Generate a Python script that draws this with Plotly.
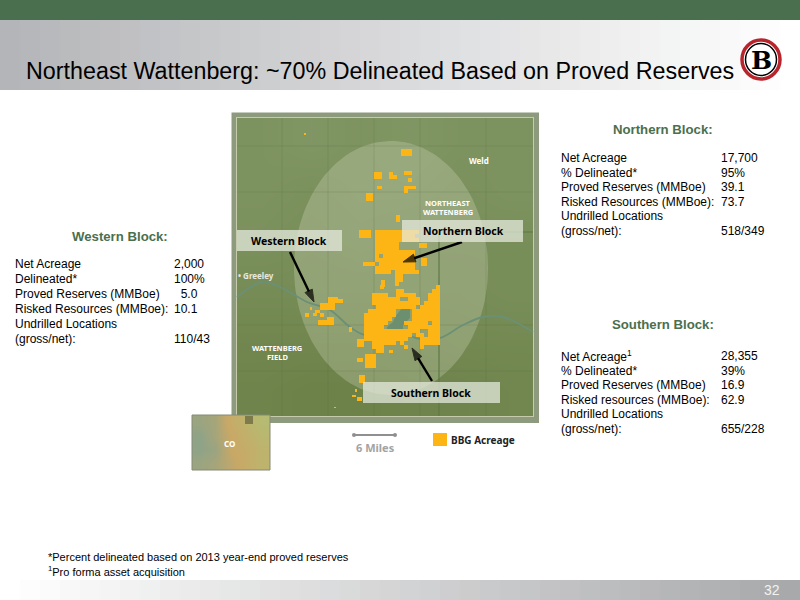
import numpy as np
import plotly.graph_objects as go

TITLE = 'Northeast Wattenberg: ~70% Delineated Based on Proved Reserves'
FOOTNOTES = ['*Percent delineated based on 2013 year-end proved reserves',
             '<sup>1</sup>Pro forma asset acquisition']
PAGE = '32'

west_labels = ['Net Acreage', 'Delineated*', 'Proved Reserves (MMBoe)',
               'Risked Resources (MMBoe):', 'Undrilled Locations', '(gross/net):']
west_values = ['2,000', '100%', '  5.0', '10.1', '', '110/43']
north_labels = ['Net Acreage', '% Delineated*', 'Proved Reserves (MMBoe)',
                'Risked Resources (MMBoe):', 'Undrilled Locations', '(gross/net):']
north_values = ['17,700', '95%', '39.1', '73.7', '', '518/349']
south_labels = ['Net Acreage<sup>1</sup>', '% Delineated*', 'Proved Reserves (MMBoe)',
                'Risked resources (MMBoe):', 'Undrilled Locations', '(gross/net):']
south_values = ['28,355', '39%', '16.9', '62.9', '', '655/228']

# acreage (slide pixels): small tracts as x0, y0, x1, y1
tracts = [
    (304, 133, 306, 135),
    (401, 149, 412, 156), (374, 172, 382, 179), (389, 172, 393, 179), (393, 175, 397, 179),
    (404, 171, 412, 175), (408, 178, 412, 182), (404, 186, 416, 189), (404, 189, 408, 193),
    (377, 186, 382, 189), (366, 193, 373, 201), (396, 215, 400, 222),
    (419, 243, 427, 248), (421, 258, 427, 266),
    (381, 280, 385, 287),
    (357, 339, 364, 347), (365, 354, 376, 368), (357, 358, 363, 362), (349, 327, 352, 332),
    (359, 375, 365, 383), (355, 389, 357, 392), (352, 395, 356, 397), (357, 397, 362, 401),
    (334, 407, 336, 408), (389, 350, 393, 353),
    (320, 303, 335, 310), (328, 297, 338, 303), (338, 299, 343, 303),
    (310, 307, 312, 310), (305, 313, 309, 317), (315, 310, 320, 313), (313, 313, 317, 316),
    (320, 313, 324, 317), (318, 320, 327, 325), (327, 317, 334, 325),
]
# the two big clusters, one character per 4px section
north_sections = [
    '.###.###########....',
    '.###.##########.....',
    '.....###########....',
    '.....######.........',
    '.....######.........',
    '.....##########.....',
    '.....#.########.....',
    '.....##########.....',
    '..###.#########.....',
    '.....##########.....',
    '.....####.######....',
    '..........##........',
    '..........##........',
    '..........#.........',
]
south_sections = [
    '.....#.............#',
    '.........##.......##',
    '...####..#####...###',
    '...#######..###..###',
    '...############.####',
    '....##########.#####',
    '..#######....#######',
    '.########....#######',
    '.#######.....#######',
    '.######....######.##',
    '.#####......########',
    '.##############..###',
    '.############.##.###',
    '.###########...#####',
    '...######.#....#####',
    '...###.....#...#....',
    '....##..............',
]
lake_x = [393, 395, 402, 407, 410, 410, 403, 403, 387, 387]
lake_y = [322, 317, 308, 307, 308, 318, 325, 331, 331, 327]
river_x = [237, 262, 280, 307, 330, 350, 365, 395, 420, 440, 463, 483, 503, 533]
river_y = [297, 282, 287, 302, 310, 327, 335, 331, 339, 338, 325, 317, 317, 332]

# shaded relief of the map and the Colorado inset, coarse grids read by eye
terrain = [[0.8, 0.9, 0.8, 0.9, 0.8, 0.8],
           [0.8, 0.7, 0.8, 0.8, 0.7, 0.8],
           [0.7, 0.6, 0.7, 0.6, 0.6, 0.6],
           [0.5, 0.5, 0.5, 0.5, 0.5, 0.6],
           [0.3, 0.3, 0.3, 0.3, 0.4, 0.4],
           [0.2, 0.1, 0.1, 0.2, 0.2, 0.3]]
inset_relief = [[0.1, 0.2, 0.6, 0.8, 1.0],
                [0.0, 0.2, 0.5, 0.7, 0.9],
                [0.0, 0.1, 0.5, 0.6, 0.8],
                [0.1, 0.2, 0.4, 0.6, 0.8]]

GREEN = '#4a6f4e'
ACRE = '#fdb515'
SANS = 'Liberation Sans'
MAP_FONT = 'Noto Sans'


def gradient(x0, x1, y0, y1, left, right):
    # edges given, so the band stops exactly at x0..x1 and y0..y1
    return go.Heatmap(x=np.linspace(x0, x1, 41), y=[y0, y1], z=[np.linspace(0, 1, 40)],
                      colorscale=[[0, left], [1, right]], showscale=False, hoverinfo='skip')


def outline(xs, ys, color):
    return go.Scatter(x=xs, y=ys, mode='lines', fill='toself', fillcolor=color,
                      line=dict(width=0), hoverinfo='skip')


def rect(x0, y0, x1, y1, color, line=None, layer='below'):
    return dict(type='rect', x0=x0, y0=y0, x1=x1, y1=y1, fillcolor=color,
                line=dict(width=1, color=line) if line else dict(width=0), layer=layer)


def label(x, y, text, size=12, color='black', font=SANS, anchor='left', bold=False):
    if bold:
        text = f'<b>{text}</b>'
    return dict(x=x, y=y, text=text, showarrow=False, xanchor=anchor, yanchor='middle',
                font=dict(family=font, size=size, color=color), xref='x', yref='y')


def arrow(x0, y0, x1, y1):
    return go.Scatter(x=[x0, x1], y=[y0, y1], mode='lines+markers', hoverinfo='skip',
                      line=dict(color='black', width=2.4),
                      marker=dict(symbol=['circle', 'arrow'], size=[1, 13], color='black',
                                  line=dict(color='black', width=1), angleref='previous'))


def panel(title, title_x, title_y, labels, values, label_x, value_x, rows_y):
    notes = [label(title_x, title_y, title, size=13.2, color=GREEN, anchor='center', bold=True)]
    for row_y, name, value in zip(rows_y, labels, values):
        notes.append(label(label_x, row_y, name))
        if value:
            notes.append(label(value_x, row_y, value.strip() if value.strip() != '5.0' else value))
    return notes


def section_runs(rows, x0, y0, cell=4):
    runs = []
    for r, row in enumerate(rows):
        c = 0
        while c < len(row):
            if row[c] == '#':
                end = c
                while end < len(row) and row[end] == '#':
                    end += 1
                runs.append((x0 + c * cell, y0 + r * cell, x0 + end * cell, y0 + (r + 1) * cell))
                c = end
            else:
                c += 1
    return runs


fig = go.Figure()

fig.add_trace(gradient(0, 800, 20, 90, '#b4b5b8', '#ffffff'))
fig.add_trace(gradient(0, 800, 580, 600, '#ffffff', '#a8a9ab'))

# map
fig.add_trace(go.Heatmap(x=[237, 286, 336, 385, 434, 484, 533],
                         y=[118, 168, 218, 267, 317, 367, 416],
                         z=terrain, zsmooth='best', zmin=0, zmax=1, showscale=False,
                         colorscale=[[0, '#6a7f45'], [1, '#829866']], hoverinfo='skip'))

t = np.linspace(0, 2 * np.pi, 120)
fig.add_trace(outline(391 + 97 * np.cos(t), 268 + 127 * np.sin(t), 'rgba(222,226,205,0.27)'))

for gx in [282, 328, 374, 420, 486]:
    fig.add_trace(go.Scatter(x=[gx, gx], y=[118, 416], mode='lines', hoverinfo='skip',
                             line=dict(color='rgba(80,100,60,0.2)', width=1)))
for gy in [146, 192, 325, 371]:
    fig.add_trace(go.Scatter(x=[237, 533], y=[gy, gy], mode='lines', hoverinfo='skip',
                             line=dict(color='rgba(80,100,60,0.2)', width=1)))
fig.add_trace(go.Scatter(x=[533, 439, 439], y=[232, 232, 416], mode='lines', hoverinfo='skip',
                         line=dict(color='#5d7a45', width=1.2)))
fig.add_trace(go.Scatter(x=river_x, y=river_y, mode='lines', hoverinfo='skip',
                         line=dict(color='#6a9078', width=1.8, shape='spline')))
fig.add_trace(outline(lake_x, lake_y, '#6c8f70'))

tract_x, tract_y = [], []
all_tracts = tracts + section_runs(north_sections, 355, 230) + section_runs(south_sections, 360, 285)
for x0, y0, x1, y1 in all_tracts:
    tract_x += [x0, x1, x1, x0, x0, None]
    tract_y += [y0, y0, y1, y1, y0, None]
fig.add_trace(outline(tract_x, tract_y, ACRE))

# colorado inset
fig.add_trace(go.Heatmap(x=[192, 208, 223, 239, 254, 270], y=[415, 429, 443, 456, 470],
                         z=inset_relief, zsmooth='best', zmin=0, zmax=1, showscale=False,
                         hoverinfo='skip',
                         colorscale=[[0, '#8fa387'], [0.5, '#c9a866'], [1, '#b5bb72']]))

fig.add_trace(go.Scatter(x=[354, 395], y=[435, 435], mode='lines+markers', hoverinfo='skip',
                         marker=dict(size=4, color='#8f8f8f'),
                         line=dict(color='#8f8f8f', width=2)))

shapes = [
    rect(0, 0, 800, 20, GREEN),
    rect(231.5, 112.5, 539, 423, '#8e9a7e'),
    rect(236, 117, 534, 417, '#c5cbab'),
    rect(433, 433, 447, 446, ACRE),
    rect(192, 415, 270, 470, 'rgba(0,0,0,0)', line='#858a74', layer='above'),
    rect(245, 416, 253, 424, '#7d7a4c', layer='above'),
    rect(237, 230, 342, 251, 'rgba(232,235,224,0.72)', layer='above'),
    rect(402, 220, 523, 242, 'rgba(232,235,224,0.72)', layer='above'),
    rect(363, 382, 500, 403, 'rgba(232,235,224,0.72)', layer='above'),
    dict(type='circle', x0=742, y0=40, x1=780, y1=79, fillcolor='white',
         line=dict(color='#b8242c', width=3.5), layer='above'),
    dict(type='circle', x0=745.5, y0=43.5, x1=776.5, y1=75.5, fillcolor='white',
         line=dict(color='black', width=1.5), layer='above'),
]

notes = [
    label(24, 71, TITLE, size=23.3),
    label(761, 60, 'B', size=25, font='DejaVu Serif', anchor='center', bold=True),
    label(772, 590, PAGE, size=14, color='#f2f2f2', anchor='center'),
    label(46, 557, FOOTNOTES[0], size=11),
    label(46, 571, FOOTNOTES[1], size=11),
    label(479, 160, 'Weld', size=8, color='white', font=MAP_FONT, anchor='center', bold=True),
    label(448, 203, 'NORTHEAST', size=7.5, color='white', font=MAP_FONT, anchor='center', bold=True),
    label(448, 212, 'WATTENBERG', size=7.5, color='white', font=MAP_FONT, anchor='center', bold=True),
    label(277, 348, 'WATTENBERG', size=7.5, color='white', font=MAP_FONT, anchor='center', bold=True),
    label(277, 357, 'FIELD', size=7.5, color='white', font=MAP_FONT, anchor='center', bold=True),
    label(236, 275, '• Greeley', size=8, color='#e8e8e0', font=MAP_FONT, bold=True),
    label(229, 443, 'CO', size=8, color='white', font=MAP_FONT, anchor='center', bold=True),
    label(289, 241, 'Western Block', size=10.5, font=MAP_FONT, anchor='center', bold=True),
    label(463, 231, 'Northern Block', size=10.5, font=MAP_FONT, anchor='center', bold=True),
    label(431, 393, 'Southern Block', size=10.5, font=MAP_FONT, anchor='center', bold=True),
    label(375, 447, '6 Miles', size=11, color='#a3a3a3', font=MAP_FONT, anchor='center', bold=True),
    label(449, 440, 'BBG Acreage', size=10, color='#222222', font=MAP_FONT, bold=True),
]
notes += panel('Western Block:', 120, 236, west_labels, west_values, 13, 172,
               [264, 279, 294, 309, 324, 339])
notes += panel('Northern Block:', 663, 129, north_labels, north_values, 559, 719,
               [158, 173, 187, 202, 216, 231])
notes += panel('Southern Block:', 663, 324, south_labels, south_values, 559, 719,
               [356, 371, 385, 400, 414, 429])

fig.add_trace(arrow(290, 252, 314, 302))
fig.add_trace(arrow(462, 242, 403, 262))
fig.add_trace(arrow(432, 381, 412, 348))

fig.update_layout(
    width=800, height=600, margin=dict(l=0, r=0, t=0, b=0),
    paper_bgcolor='white', plot_bgcolor='white', showlegend=False,
    xaxis=dict(range=[0, 800], visible=False, fixedrange=True),
    yaxis=dict(range=[600, 0], visible=False, fixedrange=True),
    shapes=shapes, annotations=notes,
)

fig.write_html("out.html", post_script="document.body.style.margin='0';",
               config=dict(displayModeBar=False))
